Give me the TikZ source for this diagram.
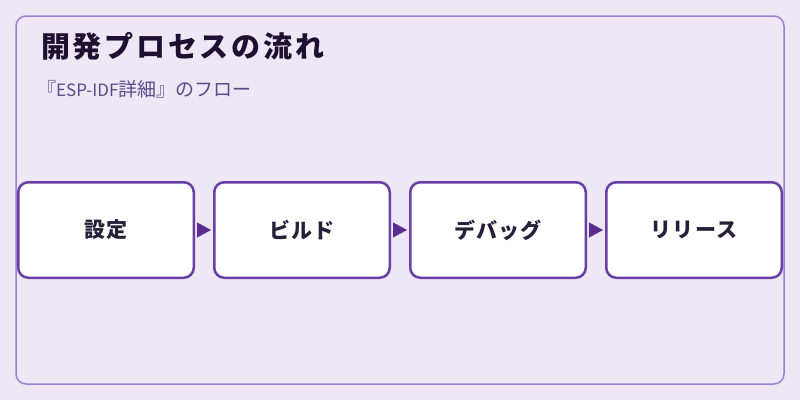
\documentclass[tikz,border=0pt]{standalone}
\usepackage{fontspec}
\setmainfont{Noto Sans CJK JP}
\newfontfamily\jp{Noto Sans CJK JP}
\newfontfamily\jptitle[LetterSpace=9.5]{Noto Sans CJK JP}
\newfontfamily\jpbox[LetterSpace=6]{Noto Sans CJK JP}
\newcommand{\latsub}[1]{{\fontsize{17}{18}\selectfont #1}}
\usetikzlibrary{arrows.meta}
\definecolor{bgc}{HTML}{EDE7F6}
\definecolor{framec}{HTML}{9C7FD2}
\definecolor{boxc}{HTML}{6A3FA5}
\definecolor{arrc}{HTML}{5A2D91}
\definecolor{titlec}{HTML}{1E1030}
\definecolor{subc}{HTML}{5B4B8A}
\definecolor{textc}{HTML}{2A1F3A}
\tikzset{
  stepbox/.style={draw=boxc, line width=2.5pt, fill=white, rounded corners=10pt,
    minimum width=175.5pt, minimum height=95.5pt, inner sep=0pt,
    font=\jpbox\fontsize{21}{24}\selectfont\bfseries, text=textc},
  flow/.style={draw=arrc, fill=arrc, line width=0.4pt, shorten >=2pt, shorten <=2pt,
    -{Triangle[length=14pt,width=15pt]}}
}
\begin{document}
\begin{tikzpicture}[x=1pt,y=-1pt]
\fill[bgc] (0,0) rectangle (800,400);
\draw[framec, line width=1.5pt, rounded corners=10pt] (16,16) rectangle (784,384);
\node[anchor=west, font=\jptitle\fontsize{29}{32}\selectfont\bfseries, text=titlec, inner sep=0pt] (title) at (41,46) {開発プロセスの流れ};
\node[anchor=west, font=\jp\fontsize{19}{20}\selectfont, text=subc, inner sep=0pt] (sub) at (37,89) {『\latsub{ESP-IDF}詳細』のフロー};
\node[stepbox] (b1) at (106,230) {\raisebox{-1.5pt}{設定}};
\node[stepbox] (b2) at (302,230) {\raisebox{-1.5pt}{ビルド}};
\node[stepbox] (b3) at (498,230) {\raisebox{-1.5pt}{デバッグ}};
\node[stepbox] (b4) at (694,230) {\raisebox{-1.5pt}{リリース}};
\draw[flow] (b1) -- (b2);
\draw[flow] (b2) -- (b3);
\draw[flow] (b3) -- (b4);
\end{tikzpicture}
\end{document}
